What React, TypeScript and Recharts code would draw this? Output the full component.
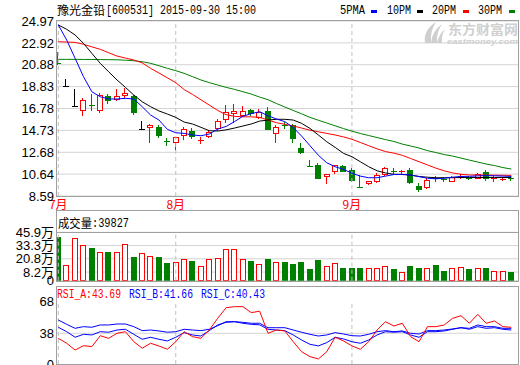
import React from "react";
import { ComposedChart, Bar, Line, XAxis, YAxis, CartesianGrid, ReferenceLine } from "recharts";

// 2015-07-14 .. 2015-09-30, one entry per trading day
const opens = [21.08, 18.89, 17.0, 16.64, 17.15, 16.64, 17.98, 17.67, 18.04, 17.95,
  14.83, 15.05, 15.07, 13.72, 13.61, 14.3, 14.72, 13.85, 14.22, 14.92,
  15.8, 16.36, 16.17, 16.64, 16.01, 16.54, 14.45, 15.25, 15.25, 13.05,
  11.42, 11.49, 10.45, 10.95, 11.42, 11.02, 9.48, 9.77, 9.99, 10.64,
  10.95, 10.9, 11.02, 9.52, 9.4, 10.26, 10.22, 10.02, 10.46, 10.32,
  10.3, 10.86, 10.22, 10.16, 10.26];
const highs = [22.1, 19.51, 18.57, 17.79, 18.1, 18.2, 18.1, 18.57, 18.67, 18.04,
  15.6, 15.3, 15.2, 13.98, 14.14, 15.02, 14.92, 14.14, 14.76, 15.77,
  17.1, 17.2, 17.0, 16.75, 16.7, 16.89, 15.2, 15.48, 15.3, 13.52,
  11.96, 11.64, 10.68, 11.52, 11.5, 11.18, 10.55, 10.0, 10.71, 11.33,
  11.18, 11.02, 11.18, 9.77, 10.3, 10.48, 10.39, 10.45, 10.62, 10.45,
  10.72, 11.02, 10.42, 10.35, 10.42];
const lows = [20.94, 18.89, 17.0, 16.17, 16.6, 16.45, 17.26, 17.6, 17.88, 16.3,
  14.83, 13.6, 14.1, 13.36, 13.0, 13.92, 14.0, 13.52, 14.15, 14.76,
  15.54, 15.54, 16.1, 16.2, 15.9, 14.85, 13.67, 14.98, 13.67, 12.6,
  11.4, 10.25, 9.83, 10.71, 10.9, 10.02, 9.46, 9.75, 9.9, 10.6,
  10.71, 10.7, 9.85, 9.05, 9.3, 10.0, 10.0, 10.0, 10.3, 10.15,
  10.28, 10.08, 10.0, 10.05, 10.08];
const closes = [21.04, 18.89, 17.0, 17.57, 17.05, 18.04, 17.57, 17.98, 18.26, 16.45,
  14.83, 15.23, 14.3, 13.67, 14.08, 14.86, 14.25, 13.9, 14.6, 15.6,
  16.45, 16.55, 16.57, 16.35, 16.48, 14.85, 15.02, 15.21, 14.0, 12.68,
  11.4, 10.3, 10.64, 11.49, 10.93, 10.08, 9.46, 9.97, 10.55, 11.18,
  10.92, 10.94, 9.87, 9.21, 10.08, 10.22, 10.18, 10.39, 10.5, 10.29,
  10.64, 10.3, 10.26, 10.2, 10.23];
// 万
const volumes = [41.7, 14.9, 40.2, 33.9, 30.7, 26.9, 26.9, 26.9, 34.5, 22.2,
  26.0, 23.7, 22.2, 16.5, 17.4, 20.6, 18.7, 14.2, 20.6, 21.2,
  30.1, 30.1, 20.6, 18.7, 15.5, 20.6, 17.4, 17.4, 15.8, 17.4,
  11.1, 19.6, 13.9, 16.5, 12.3, 12.5, 12.5, 12.5, 12.5, 14.2,
  11.1, 8.5, 13.9, 12.3, 11.7, 14.9, 9.2, 11.7, 13.3, 11.1,
  11.7, 12.5, 9.2, 9.2, 8.0];
const ma5 = [24.6, 23.19, 21.48, 19.76, 18.35, 17.88, 17.67, 17.67, 17.73, 17.67,
  16.95, 16.17, 15.7, 14.83, 14.51, 14.45, 14.3, 14.23, 14.39, 14.85,
  15.1, 15.55, 16.05, 16.3, 16.48, 16.1, 15.8, 15.55, 15.0, 14.2,
  13.3, 12.4, 11.7, 11.33, 11.08, 10.72, 10.45, 10.3, 10.3, 10.45,
  10.6, 10.62, 10.55, 10.4, 10.25, 10.2, 10.25, 10.35, 10.42, 10.43,
  10.47, 10.5, 10.48, 10.45, 10.42];
const ma10 = [24.6, 24.19, 23.66, 22.88, 21.94, 21.01, 20.22, 19.45, 18.76, 18.04,
  17.41, 16.95, 16.55, 16.26, 15.95, 15.51, 15.33, 15.02, 14.7, 14.67,
  14.78, 14.95, 15.14, 15.33, 15.6, 15.7, 15.77, 15.77, 15.7, 15.39,
  14.92, 14.3, 13.67, 13.14, 12.58, 12.27, 11.8, 11.33, 10.95, 10.75,
  10.62, 10.6, 10.55, 10.42, 10.35, 10.3, 10.3, 10.3, 10.32, 10.32,
  10.32, 10.32, 10.32, 10.32, 10.32];
const ma20 = [23.03, 23.0, 22.97, 22.79, 22.55, 22.32, 22.0, 21.69, 21.5, 21.32,
  21.05, 20.54, 20.1, 19.65, 19.2, 18.55, 18.1, 17.6, 17.1, 16.6,
  16.2, 16.05, 16.0, 16.0, 15.95, 15.7, 15.45, 15.3, 15.15, 14.95,
  14.75, 14.6, 14.45, 14.3, 14.12, 13.9, 13.6, 13.3, 13.0, 12.75,
  12.6, 12.4, 12.1, 11.8, 11.5, 11.2, 10.95, 10.75, 10.62, 10.56,
  10.55, 10.55, 10.54, 10.53, 10.52];
const ma30 = [21.38, 21.38, 21.38, 21.37, 21.37, 21.36, 21.35, 21.34, 21.3, 21.25,
  21.16, 21.01, 20.78, 20.54, 20.32, 20.07, 19.76, 19.45, 19.2, 18.98,
  18.76, 18.57, 18.35, 18.13, 17.85, 17.6, 17.25, 16.92, 16.6, 16.28,
  15.95, 15.68, 15.42, 15.16, 14.9, 14.66, 14.44, 14.25, 14.06, 13.87,
  13.69, 13.45, 13.27, 13.08, 12.84, 12.66, 12.47, 12.33, 12.14, 11.95,
  11.77, 11.58, 11.44, 11.25, 11.11];
const rsiA = [33.2, 28.5, 22.1, 26.2, 25.3, 35.7, 33.2, 38.0, 39.5, 30.0,
  23.8, 28.5, 25.9, 22.8, 30.0, 39.5, 34.8, 33.2, 41.1, 52.2,
  62.3, 63.3, 63.3, 57.6, 59.0, 38.0, 41.1, 40.2, 30.0, 20.5,
  15.8, 13.6, 20.5, 34.2, 30.7, 26.0, 22.8, 30.0, 41.1, 49.0,
  44.9, 47.5, 34.8, 30.0, 44.3, 44.3, 45.9, 52.2, 54.7, 47.5,
  56.0, 47.5, 49.7, 44.3, 43.7];
const rsiB = [43.7, 39.5, 34.2, 37.0, 36.4, 39.5, 39.0, 41.1, 41.8, 37.0,
  32.3, 34.2, 32.3, 30.7, 34.2, 38.6, 36.4, 35.4, 40.5, 45.9,
  48.4, 49.0, 47.5, 46.5, 46.0, 41.8, 41.1, 40.5, 36.4, 31.6,
  27.5, 26.0, 29.1, 34.2, 32.6, 30.0, 28.5, 31.6, 36.4, 39.5,
  39.0, 39.5, 36.4, 34.2, 39.5, 39.5, 40.2, 41.8, 43.3, 41.8,
  44.3, 42.7, 43.3, 41.8, 41.1];
const rsiC = [50.6, 46.5, 42.7, 44.3, 43.7, 45.9, 45.9, 46.8, 46.8, 44.3,
  40.5, 41.1, 40.2, 39.0, 39.5, 41.8, 41.1, 40.5, 41.8, 45.2,
  49.0, 49.0, 48.4, 47.5, 47.5, 43.3, 43.3, 43.3, 41.1, 39.0,
  37.0, 35.4, 36.4, 38.6, 37.3, 35.7, 35.4, 37.0, 39.5, 40.5,
  39.5, 40.2, 38.0, 37.3, 40.5, 40.5, 41.1, 42.1, 43.3, 42.7,
  45.9, 44.3, 44.3, 42.7, 42.7];

const priceTicks = [8.59, 10.64, 12.68, 14.73, 16.78, 18.83, 20.88, 22.92, 24.97];
const volTicks = [0, 8.2, 20.8, 33.3, 45.9];
const rsiTicks = [8.8, 38, 68];
const monthIdx = [0, 14, 35];
const monthLabels = ["7月", "8月", "9月"];

const RED = "#ff0000";
const GREEN = "#008000";
const BLUE = "#0000ff";
const GRID = "#d4d4d4";
const FRAME = "#a0a0a0";
const DASH = "#c0c0c0";
const numFont = "'Liberation Sans', 'Noto Sans CJK SC', sans-serif";
const mono = "'Liberation Mono', 'DejaVu Sans Mono', monospace";
const cjk = "'Noto Sans CJK SC', sans-serif";
const X_DOMAIN = [-0.155, 54.795];

const rows = opens.map((o, i) => ({
  i,
  open: o,
  high: highs[i],
  low: lows[i],
  close: closes[i],
  range: [lows[i], highs[i]],
  vol: volumes[i],
  up: closes[i] >= o,
  ma5: ma5[i],
  ma10: ma10[i],
  ma20: ma20[i],
  ma30: ma30[i],
  rsiA: rsiA[i],
  rsiB: rsiB[i],
  rsiC: rsiC[i],
}));

function Candle(props: any) {
  const { x, y, width, height, payload } = props;
  if (!payload || y == null || height == null) return null;
  const { open, close, high, low } = payload;
  const span = high - low || 1;
  const py = (v: number) => y + ((high - v) / span) * height;
  const left = Math.round(x + width / 2 - 3);
  const wx = left + 2.5;
  const yH = Math.round(py(high));
  const yL = Math.round(py(low));
  const yO = py(open);
  const yC = py(close);
  const top = Math.round(Math.min(yO, yC));
  const bot = Math.round(Math.max(yO, yC));
  const color = close > open ? RED : close < open ? GREEN : "#000";

  if (bot - top < 2) {
    const yy = Math.round((yO + yC) / 2) + 0.5;
    return (
      <g>
        <line x1={wx} x2={wx} y1={yH} y2={yL + 1} stroke={color} />
        <line x1={left} x2={left + 6} y1={yy} y2={yy} stroke={color} />
      </g>
    );
  }
  if (color === RED) {
    return (
      <g>
        <line x1={wx} x2={wx} y1={yH} y2={top} stroke={RED} />
        <line x1={wx} x2={wx} y1={bot} y2={yL + 1} stroke={RED} />
        <rect x={left + 0.5} y={top + 0.5} width={5} height={bot - top} fill="#fff" stroke={RED} />
      </g>
    );
  }
  return (
    <g>
      <line x1={wx} x2={wx} y1={yH} y2={yL + 1} stroke={GREEN} />
      <rect x={left} y={top} width={6} height={bot - top + 1} fill={GREEN} />
    </g>
  );
}

function VolBar(props: any) {
  const { x, y, width, height, payload } = props;
  if (!payload || y == null) return null;
  const left = Math.round(x + width / 2 - 3);
  const top = Math.round(y);
  const bot = Math.round(y + height);
  if (payload.up) {
    return <rect x={left + 0.5} y={top + 0.5} width={5} height={bot - top - 1} fill="#fff" stroke={RED} />;
  }
  return <rect x={left} y={top} width={6} height={bot - top} fill={GREEN} />;
}

function MonthTick(props: any) {
  const { x, y, payload } = props;
  const k = monthIdx.indexOf(payload.value);
  return (
    <text x={x} y={y + 11} textAnchor="middle" fill={RED} fontSize={12} fontFamily={cjk}>
      {monthLabels[k]}
    </text>
  );
}

const tickStyle = { fontSize: 13, fill: "#000", fontFamily: numFont };

export default function App() {
  return (
    <div style={{ position: "absolute", left: 0, top: 0, width: 520, height: 365, background: "#fff", overflow: "hidden" }}>
      <div style={{ position: "absolute", left: 0, top: 0 }}>
        <ComposedChart width={520} height={215} data={rows} margin={{ top: 21, right: 2, bottom: 0, left: 0 }}>
          <CartesianGrid vertical={false} stroke={GRID} />
          <XAxis dataKey="i" type="number" domain={X_DOMAIN} allowDataOverflow ticks={monthIdx} interval={0}
            axisLine={false} tickLine={false} tickSize={0} tickMargin={2} height={19} tick={<MonthTick />} />
          <YAxis type="number" domain={[8.59, 24.97]} allowDataOverflow ticks={priceTicks} interval={0} width={57}
            axisLine={false} tickLine={false} tickSize={0} tickMargin={3} tick={tickStyle} />
          {monthIdx.map((m) => (
            <ReferenceLine key={m} x={m} stroke={DASH} strokeDasharray="4 3" />
          ))}
          <Bar dataKey="range" barSize={6} shape={Candle} isAnimationActive={false} />
          <Line dataKey="ma30" stroke={GREEN} strokeWidth={1} dot={false} activeDot={false} isAnimationActive={false} />
          <Line dataKey="ma20" stroke={RED} strokeWidth={1} dot={false} activeDot={false} isAnimationActive={false} />
          <Line dataKey="ma10" stroke="#000" strokeWidth={1} dot={false} activeDot={false} isAnimationActive={false} />
          <Line dataKey="ma5" stroke={BLUE} strokeWidth={1} dot={false} activeDot={false} isAnimationActive={false} />
        </ComposedChart>
      </div>

      <div style={{ position: "absolute", left: 0, top: 210 }}>
        <ComposedChart width={520} height={80} data={rows} margin={{ top: 22.3, right: 2, bottom: 9.3, left: 0 }}>
          <CartesianGrid vertical={false} stroke={GRID} />
          <XAxis dataKey="i" type="number" domain={X_DOMAIN} allowDataOverflow hide />
          <YAxis type="number" domain={[0, 45.9]} allowDataOverflow ticks={volTicks} interval={0} width={57}
            axisLine={false} tickLine={false} tickSize={0} tickMargin={3} tick={tickStyle}
            tickFormatter={(v: number) => (v === 0 ? "0" : `${v}万`)} />
          {monthIdx.map((m) => (
            <ReferenceLine key={m} x={m} stroke={DASH} strokeDasharray="4 3" />
          ))}
          <Bar dataKey="vol" barSize={6} shape={VolBar} isAnimationActive={false} />
        </ComposedChart>
      </div>

      <div style={{ position: "absolute", left: 0, top: 286 }}>
        <ComposedChart width={520} height={79} data={rows} margin={{ top: 15.7, right: 2, bottom: 1, left: 0 }}>
          <XAxis dataKey="i" type="number" domain={X_DOMAIN} allowDataOverflow hide />
          <YAxis type="number" domain={[8.8, 68]} allowDataOverflow ticks={rsiTicks} interval={0} width={57}
            axisLine={false} tickLine={false} tickSize={0} tickMargin={3} tick={tickStyle}
            tickFormatter={(v: number) => (v < 10 ? "0" : String(v))} />
          <ReferenceLine y={38} stroke={GRID} />
          {monthIdx.map((m) => (
            <ReferenceLine key={m} x={m} stroke={DASH} strokeDasharray="4 3" />
          ))}
          <Line dataKey="rsiC" stroke={BLUE} strokeWidth={1} dot={false} activeDot={false} isAnimationActive={false} />
          <Line dataKey="rsiB" stroke={BLUE} strokeWidth={1} dot={false} activeDot={false} isAnimationActive={false} />
          <Line dataKey="rsiA" stroke={RED} strokeWidth={1} dot={false} activeDot={false} isAnimationActive={false} />
        </ComposedChart>
      </div>

      <svg width={520} height={365} style={{ position: "absolute", left: 0, top: 0, pointerEvents: "none" }}>
        {/* watermark */}
        <g fill="#cfcfcf" stroke="none">
          <path d="M425 43 Q423 30 436 22 Q430 31 431 43 Z" />
          <path d="M431 43 Q432 31 442 24 Q436 33 437 43 Z" />
          <path d="M437 43 Q439 34 445 29 Q441 36 442 43 Z" />
          <text x={448} y={34} fontFamily={cjk} fontSize={13} fontWeight="bold" textLength={70} lengthAdjust="spacingAndGlyphs">东方财富网</text>
          <text x={447} y={44} fontFamily={numFont} fontSize={8} fontWeight="bold" fontStyle="italic" textLength={71} lengthAdjust="spacingAndGlyphs">eastmoney.com</text>
        </g>

        {/* panel frames */}
        <g fill="none" stroke={FRAME}>
          <rect x={56.5} y={20.5} width={462} height={176} />
          <rect x={56.5} y={210.5} width={462} height={71} />
          <line x1={56.5} x2={518.5} y1={232.5} y2={232.5} />
          <rect x={56.5} y={286.5} width={462} height={78} />
        </g>

        {/* title + MA legend */}
        <text x={57} y={15} fontFamily={cjk} fontSize={12} textLength={48} lengthAdjust="spacingAndGlyphs">豫光金铅</text>
        <text x={106} y={14} fontFamily={mono} fontSize={12} textLength={150} lengthAdjust="spacingAndGlyphs">[600531] 2015-09-30 15:00</text>
        <text x={340} y={14} fontFamily={mono} fontSize={12} textLength={25} lengthAdjust="spacingAndGlyphs">5PMA</text>
        <rect x={371} y={10} width={6} height={3} fill={BLUE} />
        <text x={387} y={14} fontFamily={mono} fontSize={12} textLength={24} lengthAdjust="spacingAndGlyphs">10PM</text>
        <rect x={417} y={10} width={6} height={3} fill="#000" />
        <text x={432} y={14} fontFamily={mono} fontSize={12} textLength={24} lengthAdjust="spacingAndGlyphs">20PM</text>
        <rect x={463} y={10} width={6} height={3} fill={RED} />
        <text x={478} y={14} fontFamily={mono} fontSize={12} textLength={24} lengthAdjust="spacingAndGlyphs">30PM</text>
        <rect x={509} y={10} width={6} height={3} fill={GREEN} />

        {/* volume title */}
        <text x={58} y={228} fontFamily={cjk} fontSize={12} textLength={34} lengthAdjust="spacingAndGlyphs">成交量</text>
        <text x={92} y={227} fontFamily={mono} fontSize={12} textLength={37} lengthAdjust="spacingAndGlyphs">:39827</text>

        {/* RSI title */}
        <text x={57} y={298} fontFamily={mono} fontSize={12} fill={RED} textLength={64} lengthAdjust="spacingAndGlyphs">RSI_A:43.69</text>
        <text x={129} y={298} fontFamily={mono} fontSize={12} fill={BLUE} textLength={64} lengthAdjust="spacingAndGlyphs">RSI_B:41.66</text>
        <text x={201} y={298} fontFamily={mono} fontSize={12} fill={BLUE} textLength={64} lengthAdjust="spacingAndGlyphs">RSI_C:40.43</text>
      </svg>
    </div>
  );
}
